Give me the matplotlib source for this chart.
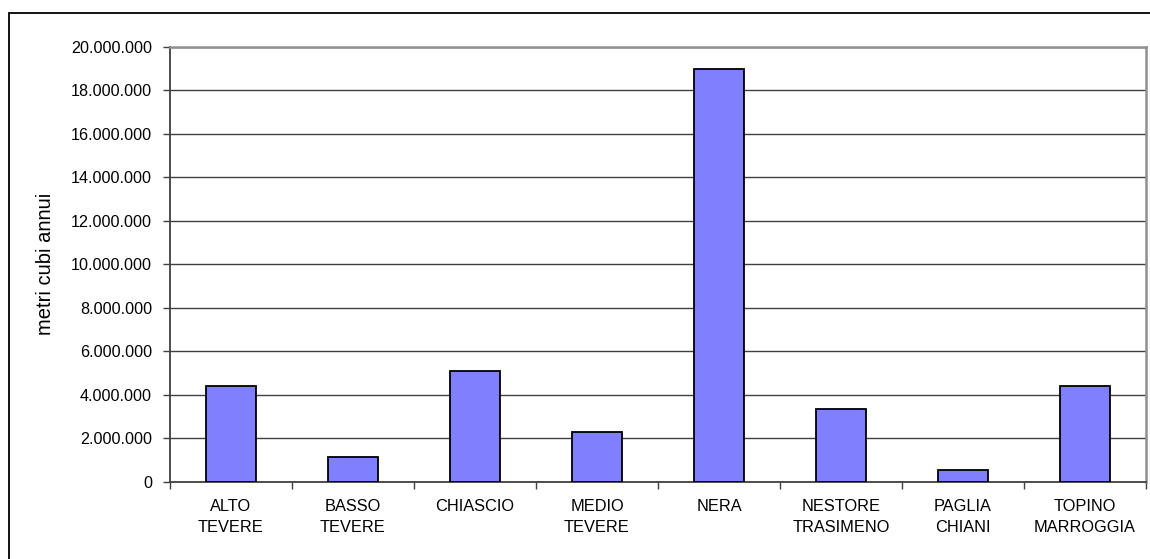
import matplotlib
matplotlib.use('Agg')
import matplotlib.pyplot as plt
from matplotlib.patches import Rectangle
from matplotlib.ticker import FuncFormatter, MultipleLocator

# volumes per basin (metri cubi annui)
bacini = ['ALTO\nTEVERE', 'BASSO\nTEVERE', 'CHIASCIO', 'MEDIO\nTEVERE', 'NERA',
          'NESTORE\nTRASIMENO', 'PAGLIA\nCHIANI', 'TOPINO\nMARROGGIA']
volumi = [4400000, 1150000, 5100000, 2300000, 19000000, 3350000, 550000, 4400000]

plt.rcParams['font.family'] = ['Liberation Sans', 'DejaVu Sans']

W, H = 1150, 559
fig = plt.figure(figsize=(W / 100, H / 100), dpi=100, facecolor='white')
ax = fig.add_axes([170 / W, 1 - 481.7 / H, (1146 - 170) / W, (481.7 - 47) / H])

# outer chart frame (runs off the right and bottom edge)
fig.patches.append(Rectangle((8.5 / W, -0.2), 2, 1.2 - 12.5 / H, transform=fig.transFigure,
                             fill=False, ec='black', lw=1.3))

x = range(len(bacini))
ax.bar(x, volumi, width=0.41, color='#8080FF', edgecolor='black', linewidth=1.3, zorder=3)

ax.set_xlim(-0.5, len(bacini) - 0.5)
ax.set_ylim(0, 20000000)
ax.yaxis.set_major_locator(MultipleLocator(2000000))
ax.yaxis.set_major_formatter(FuncFormatter(lambda v, p: f'{int(v):,}'.replace(',', '.')))
ax.grid(axis='y', color='#404040', lw=1, zorder=0)

# category labels centred, ticks on the boundaries
ax.set_xticks(list(x))
ax.set_xticklabels(bacini, fontsize=11.8, linespacing=1.5)
ax.tick_params(axis='x', which='major', length=0, pad=12.5)
ax.set_xticks([i + 0.5 for i in range(-1, len(bacini))], minor=True)
ax.tick_params(axis='x', which='minor', length=5, width=1, color='#404040', direction='out')
ax.tick_params(axis='y', length=5, width=1, color='#404040', labelsize=11.6, pad=8)

ax.set_ylabel('metri cubi annui', fontsize=14.5)
ax.yaxis.set_label_coords(-0.118, 0.5)

for s in ['left', 'bottom']:
    ax.spines[s].set_color('#404040')
    ax.spines[s].set_linewidth(1.3)
for s in ['top', 'right']:
    ax.spines[s].set_color('#909090')
    ax.spines[s].set_linewidth(1.8)

fig.savefig('out.png', dpi=100, facecolor='white')
